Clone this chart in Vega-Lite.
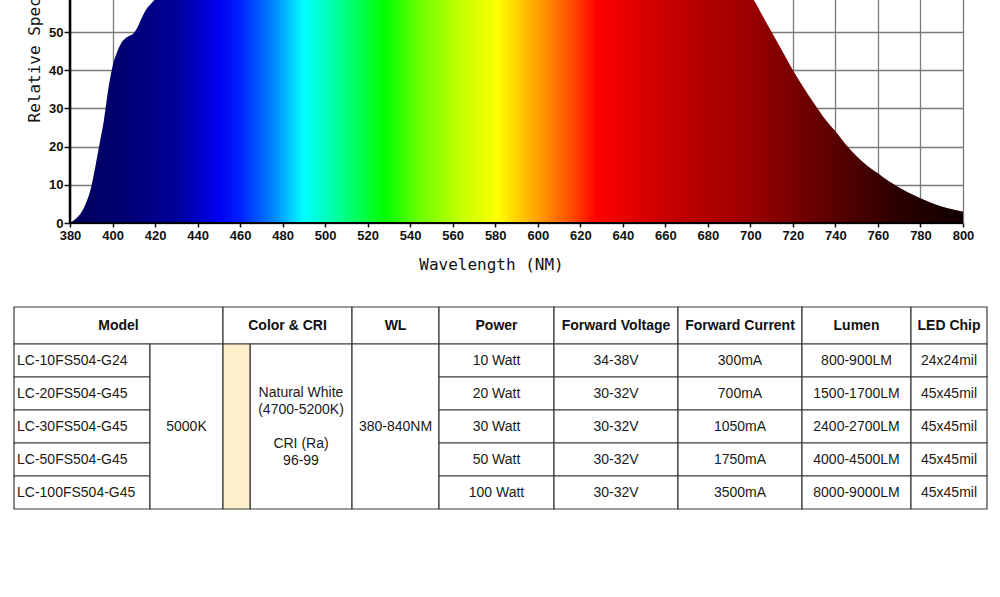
{
  "$schema": "https://vega.github.io/schema/vega-lite/v6.json",
  "background": "white",
  "padding": {"left": 13, "top": -165, "right": 0, "bottom": 0},
  "autosize": {"type": "pad"},
  "config": {"view": {"stroke": null}, "font": "Liberation Sans"},
  "datasets": {
    "spectrum": [
      {"wl": 380, "rel": 0}, {"wl": 382, "rel": 0.8}, {"wl": 385, "rel": 2.5}, {"wl": 387, "rel": 4.5},
      {"wl": 390, "rel": 9.5}, {"wl": 392, "rel": 15}, {"wl": 394, "rel": 21}, {"wl": 396, "rel": 27},
      {"wl": 398, "rel": 35}, {"wl": 400, "rel": 41}, {"wl": 402, "rel": 44.5}, {"wl": 404, "rel": 47},
      {"wl": 406, "rel": 48.3}, {"wl": 408, "rel": 49}, {"wl": 410, "rel": 49.7}, {"wl": 412, "rel": 51.5},
      {"wl": 414, "rel": 54}, {"wl": 416, "rel": 56}, {"wl": 418, "rel": 57.3}, {"wl": 420, "rel": 58.6},
      {"wl": 425, "rel": 63}, {"wl": 430, "rel": 68}, {"wl": 440, "rel": 78}, {"wl": 450, "rel": 88},
      {"wl": 455, "rel": 92}, {"wl": 460, "rel": 94}, {"wl": 470, "rel": 88}, {"wl": 480, "rel": 82},
      {"wl": 490, "rel": 79}, {"wl": 500, "rel": 80}, {"wl": 510, "rel": 83}, {"wl": 520, "rel": 86},
      {"wl": 530, "rel": 89}, {"wl": 540, "rel": 91}, {"wl": 550, "rel": 93}, {"wl": 560, "rel": 95},
      {"wl": 570, "rel": 97}, {"wl": 580, "rel": 98.5}, {"wl": 590, "rel": 99.5}, {"wl": 600, "rel": 100},
      {"wl": 610, "rel": 99.5}, {"wl": 620, "rel": 98}, {"wl": 630, "rel": 96}, {"wl": 640, "rel": 93},
      {"wl": 650, "rel": 89}, {"wl": 660, "rel": 84}, {"wl": 670, "rel": 78}, {"wl": 680, "rel": 72},
      {"wl": 690, "rel": 65}, {"wl": 695, "rel": 62}, {"wl": 700, "rel": 59.5}, {"wl": 702, "rel": 58},
      {"wl": 705, "rel": 55}, {"wl": 710, "rel": 50}, {"wl": 715, "rel": 45}, {"wl": 720, "rel": 40},
      {"wl": 725, "rel": 35.5}, {"wl": 730, "rel": 31.3}, {"wl": 735, "rel": 27.3}, {"wl": 740, "rel": 24},
      {"wl": 745, "rel": 20.5}, {"wl": 750, "rel": 17.5}, {"wl": 755, "rel": 15}, {"wl": 760, "rel": 13},
      {"wl": 765, "rel": 11}, {"wl": 770, "rel": 9.3}, {"wl": 775, "rel": 7.8}, {"wl": 780, "rel": 6.5},
      {"wl": 785, "rel": 5.3}, {"wl": 790, "rel": 4.3}, {"wl": 795, "rel": 3.6}, {"wl": 800, "rel": 3.0}
    ],
    "header": [
      {"label": "Model", "h0": 0, "h1": 1},
      {"label": "Color & CRI", "h0": 1, "h1": 2},
      {"label": "WL", "h0": 2, "h1": 3},
      {"label": "Power", "h0": 3, "h1": 4},
      {"label": "Forward Voltage", "h0": 4, "h1": 5},
      {"label": "Forward Current", "h0": 5, "h1": 6},
      {"label": "Lumen", "h0": 6, "h1": 7},
      {"label": "LED Chip", "h0": 7, "h1": 8}
    ],
    "cells": [
      {"label": "LC-10FS504-G24", "kind": "model", "c0": 0, "c1": 1, "r0": 1, "r1": 2},
      {"label": "LC-20FS504-G45", "kind": "model", "c0": 0, "c1": 1, "r0": 2, "r1": 3},
      {"label": "LC-30FS504-G45", "kind": "model", "c0": 0, "c1": 1, "r0": 3, "r1": 4},
      {"label": "LC-50FS504-G45", "kind": "model", "c0": 0, "c1": 1, "r0": 4, "r1": 5},
      {"label": "LC-100FS504-G45", "kind": "model", "c0": 0, "c1": 1, "r0": 5, "r1": 6},
      {"label": "5000K", "kind": "cell", "c0": 1, "c1": 2, "r0": 1, "r1": 6},
      {"label": "", "kind": "swatch", "c0": 2, "c1": 3, "r0": 1, "r1": 6},
      {"label": "Natural White\n(4700-5200K)\n\u200b\nCRI (Ra)\n96-99", "kind": "note", "c0": 3, "c1": 4, "r0": 1, "r1": 6},
      {"label": "380-840NM", "kind": "cell", "c0": 4, "c1": 5, "r0": 1, "r1": 6},
      {"label": "10 Watt", "kind": "cell", "c0": 5, "c1": 6, "r0": 1, "r1": 2},
      {"label": "34-38V", "kind": "cell", "c0": 6, "c1": 7, "r0": 1, "r1": 2},
      {"label": "300mA", "kind": "cell", "c0": 7, "c1": 8, "r0": 1, "r1": 2},
      {"label": "800-900LM", "kind": "cell", "c0": 8, "c1": 9, "r0": 1, "r1": 2},
      {"label": "24x24mil", "kind": "cell", "c0": 9, "c1": 10, "r0": 1, "r1": 2},
      {"label": "20 Watt", "kind": "cell", "c0": 5, "c1": 6, "r0": 2, "r1": 3},
      {"label": "30-32V", "kind": "cell", "c0": 6, "c1": 7, "r0": 2, "r1": 3},
      {"label": "700mA", "kind": "cell", "c0": 7, "c1": 8, "r0": 2, "r1": 3},
      {"label": "1500-1700LM", "kind": "cell", "c0": 8, "c1": 9, "r0": 2, "r1": 3},
      {"label": "45x45mil", "kind": "cell", "c0": 9, "c1": 10, "r0": 2, "r1": 3},
      {"label": "30 Watt", "kind": "cell", "c0": 5, "c1": 6, "r0": 3, "r1": 4},
      {"label": "30-32V", "kind": "cell", "c0": 6, "c1": 7, "r0": 3, "r1": 4},
      {"label": "1050mA", "kind": "cell", "c0": 7, "c1": 8, "r0": 3, "r1": 4},
      {"label": "2400-2700LM", "kind": "cell", "c0": 8, "c1": 9, "r0": 3, "r1": 4},
      {"label": "45x45mil", "kind": "cell", "c0": 9, "c1": 10, "r0": 3, "r1": 4},
      {"label": "50 Watt", "kind": "cell", "c0": 5, "c1": 6, "r0": 4, "r1": 5},
      {"label": "30-32V", "kind": "cell", "c0": 6, "c1": 7, "r0": 4, "r1": 5},
      {"label": "1750mA", "kind": "cell", "c0": 7, "c1": 8, "r0": 4, "r1": 5},
      {"label": "4000-4500LM", "kind": "cell", "c0": 8, "c1": 9, "r0": 4, "r1": 5},
      {"label": "45x45mil", "kind": "cell", "c0": 9, "c1": 10, "r0": 4, "r1": 5},
      {"label": "100 Watt", "kind": "cell", "c0": 5, "c1": 6, "r0": 5, "r1": 6},
      {"label": "30-32V", "kind": "cell", "c0": 6, "c1": 7, "r0": 5, "r1": 6},
      {"label": "3500mA", "kind": "cell", "c0": 7, "c1": 8, "r0": 5, "r1": 6},
      {"label": "8000-9000LM", "kind": "cell", "c0": 8, "c1": 9, "r0": 5, "r1": 6},
      {"label": "45x45mil", "kind": "cell", "c0": 9, "c1": 10, "r0": 5, "r1": 6}
    ]
  },
  "spacing": 84,
  "center": false,
  "bounds": "flush",
  "vconcat": [
    {
      "width": 893,
      "height": 382,
      "layer": [
        {
          "data": {"name": "spectrum"},
          "mark": {
            "type": "area",
            "interpolate": "monotone",
            "clip": true,
            "color": {
              "gradient": "linear",
              "x1": 0, "x2": 1, "y1": 0, "y2": 0,
              "stops": [
                {"offset": 0, "color": "#00005a"},
                {"offset": 0.0714, "color": "#000078"},
                {"offset": 0.119, "color": "#00009a"},
                {"offset": 0.1667, "color": "#0000f0"},
                {"offset": 0.1905, "color": "#0020ff"},
                {"offset": 0.226, "color": "#0080ff"},
                {"offset": 0.262, "color": "#00ffff"},
                {"offset": 0.298, "color": "#00ffa0"},
                {"offset": 0.352, "color": "#00ff00"},
                {"offset": 0.393, "color": "#70ff00"},
                {"offset": 0.44, "color": "#c8ff00"},
                {"offset": 0.479, "color": "#ffff00"},
                {"offset": 0.524, "color": "#ffa000"},
                {"offset": 0.56, "color": "#ff5000"},
                {"offset": 0.59, "color": "#ff0000"},
                {"offset": 0.667, "color": "#c80000"},
                {"offset": 0.762, "color": "#9a0000"},
                {"offset": 0.857, "color": "#580000"},
                {"offset": 0.929, "color": "#2a0000"},
                {"offset": 1, "color": "#100000"}
              ]
            }
          },
          "encoding": {
            "x": {
              "field": "wl", "type": "quantitative",
              "scale": {"domain": [380, 800], "nice": false, "zero": false},
              "axis": {
                "values": [380, 400, 420, 440, 460, 480, 500, 520, 540, 560, 580, 600, 620, 640, 660, 680, 700, 720, 740, 760, 780, 800],
                "tickCount": 30,
                "title": "Wavelength (NM)",
                "grid": true, "gridColor": "#7a7a7a", "gridWidth": 1.3, "gridOpacity": 1,
                "domain": false,
                "tickColor": "#111", "tickSize": 4, "tickWidth": 1.5,
                "labelFont": "Liberation Sans", "labelFontWeight": "bold", "labelFontSize": 13,
                "labelColor": "#111", "labelPadding": 2, "labelFlush": false, "labelOverlap": false,
                "titleFont": "DejaVu Sans Mono", "titleFontSize": 16, "titleFontWeight": "normal",
                "titleColor": "#111", "titleX": 421, "titlePadding": 14
              }
            },
            "y": {
              "field": "rel", "type": "quantitative",
              "scale": {"domain": [0, 100], "nice": false},
              "axis": {
                "values": [0, 10, 20, 30, 40, 50, 60, 70, 80, 90, 100],
                "tickCount": 20,
                "title": "Relative Spectral Power",
                "grid": true, "gridColor": "#7a7a7a", "gridWidth": 1.3, "gridOpacity": 1,
                "domain": false,
                "tickColor": "#111", "tickSize": 6, "tickWidth": 1.5,
                "labelFont": "Liberation Sans", "labelFontWeight": "bold", "labelFontSize": 13,
                "labelColor": "#111", "labelPadding": 1, "labelOverlap": false,
                "titleFont": "DejaVu Sans Mono", "titleFontSize": 16, "titleFontWeight": "normal",
                "titleColor": "#111", "titleAngle": 270, "titleAlign": "left",
                "titleBaseline": "alphabetic", "titleX": -31, "titleY": 281
              }
            }
          }
        },
        {
          "data": {"values": [{}]},
          "mark": {"type": "rule", "color": "#000", "strokeWidth": 2.5},
          "encoding": {"x": {"datum": 380}, "y": {"datum": 0}, "y2": {"datum": 100}}
        },
        {
          "data": {"values": [{}]},
          "mark": {"type": "rule", "color": "#000", "strokeWidth": 2},
          "encoding": {"y": {"datum": 0}, "x": {"datum": 380}, "x2": {"datum": 800}}
        }
      ]
    },
    {
      "width": 917,
      "height": 202,
      "resolve": {"scale": {"x": "independent", "y": "independent"}},
      "layer": [
        {
          "data": {"name": "header"},
          "mark": {"type": "rect", "fill": "white", "stroke": "#3a3a3a", "strokeWidth": 1.2},
          "encoding": {
            "x": {"field": "h0", "type": "quantitative", "axis": null,
                  "scale": {"domain": [0, 1, 2, 3, 4, 5, 6, 7, 8], "range": [-56, 153, 282, 369, 484, 608, 732, 841, 917], "nice": false, "zero": false}},
            "x2": {"field": "h1"},
            "y": {"datum": 0, "type": "quantitative", "axis": null,
                  "scale": {"domain": [0, 1, 6], "range": [0, 37, 202], "nice": false, "zero": false}},
            "y2": {"datum": 1}
          }
        },
        {
          "data": {"name": "header"},
          "transform": [
            {"fold": ["h0", "h1"], "as": ["edge", "pos"]},
            {"aggregate": [{"op": "mean", "field": "pos", "as": "mid"}], "groupby": ["label"]}
          ],
          "mark": {"type": "text", "font": "Liberation Sans", "fontSize": 14, "fontWeight": "bold", "color": "#111", "align": "center", "baseline": "middle"},
          "encoding": {
            "x": {"field": "mid", "type": "quantitative", "axis": null,
                  "scale": {"domain": [0, 1, 2, 3, 4, 5, 6, 7, 8], "range": [-56, 153, 282, 369, 484, 608, 732, 841, 917], "nice": false, "zero": false}},
            "y": {"datum": 0.5, "type": "quantitative", "axis": null,
                  "scale": {"domain": [0, 1, 6], "range": [0, 37, 202], "nice": false, "zero": false}},
            "text": {"field": "label"}
          }
        },
        {
          "data": {"name": "cells"},
          "transform": [{"filter": "datum.kind !== 'swatch'"}],
          "mark": {"type": "rect", "fill": "white", "stroke": "#3a3a3a", "strokeWidth": 1.2},
          "encoding": {
            "x": {"field": "c0", "type": "quantitative", "axis": null,
                  "scale": {"domain": [0, 1, 2, 3, 4, 5, 6, 7, 8, 9, 10], "range": [-56, 80, 153, 180, 282, 369, 484, 608, 732, 841, 917], "nice": false, "zero": false}},
            "x2": {"field": "c1"},
            "y": {"field": "r0", "type": "quantitative", "axis": null,
                  "scale": {"domain": [0, 1, 6], "range": [0, 37, 202], "nice": false, "zero": false}},
            "y2": {"field": "r1"}
          }
        },
        {
          "data": {"name": "cells"},
          "transform": [{"filter": "datum.kind === 'swatch'"}],
          "mark": {"type": "rect", "fill": "#fcefc9", "stroke": "#3a3a3a", "strokeWidth": 1.2},
          "encoding": {
            "x": {"field": "c0", "type": "quantitative", "axis": null,
                  "scale": {"domain": [0, 1, 2, 3, 4, 5, 6, 7, 8, 9, 10], "range": [-56, 80, 153, 180, 282, 369, 484, 608, 732, 841, 917], "nice": false, "zero": false}},
            "x2": {"field": "c1"},
            "y": {"field": "r0", "type": "quantitative", "axis": null,
                  "scale": {"domain": [0, 1, 6], "range": [0, 37, 202], "nice": false, "zero": false}},
            "y2": {"field": "r1"}
          }
        },
        {
          "data": {"name": "cells"},
          "transform": [
            {"filter": "datum.kind === 'model'"},
            {"fold": ["r0", "r1"], "as": ["redge", "rpos"]},
            {"aggregate": [{"op": "mean", "field": "rpos", "as": "rmid"}], "groupby": ["label", "c0"]}
          ],
          "mark": {"type": "text", "font": "Liberation Sans", "fontSize": 14, "color": "#1a1a1a", "align": "left", "baseline": "middle", "dx": 3},
          "encoding": {
            "x": {"field": "c0", "type": "quantitative", "axis": null,
                  "scale": {"domain": [0, 1, 2, 3, 4, 5, 6, 7, 8, 9, 10], "range": [-56, 80, 153, 180, 282, 369, 484, 608, 732, 841, 917], "nice": false, "zero": false}},
            "y": {"field": "rmid", "type": "quantitative", "axis": null,
                  "scale": {"domain": [0, 1, 6], "range": [0, 37, 202], "nice": false, "zero": false}},
            "text": {"field": "label"}
          }
        },
        {
          "data": {"name": "cells"},
          "transform": [
            {"filter": "datum.kind === 'cell'"},
            {"fold": ["c0", "c1"], "as": ["cedge", "cpos"]},
            {"fold": ["r0", "r1"], "as": ["redge", "rpos"]},
            {"aggregate": [{"op": "mean", "field": "cpos", "as": "cmid"}, {"op": "mean", "field": "rpos", "as": "rmid"}], "groupby": ["label", "c0", "r0"]}
          ],
          "mark": {"type": "text", "font": "Liberation Sans", "fontSize": 14, "color": "#1a1a1a", "align": "center", "baseline": "middle"},
          "encoding": {
            "x": {"field": "cmid", "type": "quantitative", "axis": null,
                  "scale": {"domain": [0, 1, 2, 3, 4, 5, 6, 7, 8, 9, 10], "range": [-56, 80, 153, 180, 282, 369, 484, 608, 732, 841, 917], "nice": false, "zero": false}},
            "y": {"field": "rmid", "type": "quantitative", "axis": null,
                  "scale": {"domain": [0, 1, 6], "range": [0, 37, 202], "nice": false, "zero": false}},
            "text": {"field": "label"}
          }
        },
        {
          "data": {"name": "cells"},
          "transform": [
            {"filter": "datum.kind === 'note'"},
            {"fold": ["c0", "c1"], "as": ["cedge", "cpos"]},
            {"fold": ["r0", "r1"], "as": ["redge", "rpos"]},
            {"aggregate": [{"op": "mean", "field": "cpos", "as": "cmid"}, {"op": "mean", "field": "rpos", "as": "rmid"}], "groupby": ["label", "c0", "r0"]}
          ],
          "mark": {"type": "text", "font": "Liberation Sans", "fontSize": 14, "color": "#1a1a1a", "align": "center", "baseline": "middle", "lineBreak": "\n", "lineHeight": 17, "dy": -34},
          "encoding": {
            "x": {"field": "cmid", "type": "quantitative", "axis": null,
                  "scale": {"domain": [0, 1, 2, 3, 4, 5, 6, 7, 8, 9, 10], "range": [-56, 80, 153, 180, 282, 369, 484, 608, 732, 841, 917], "nice": false, "zero": false}},
            "y": {"field": "rmid", "type": "quantitative", "axis": null,
                  "scale": {"domain": [0, 1, 6], "range": [0, 37, 202], "nice": false, "zero": false}},
            "text": {"field": "label"}
          }
        }
      ]
    }
  ]
}
